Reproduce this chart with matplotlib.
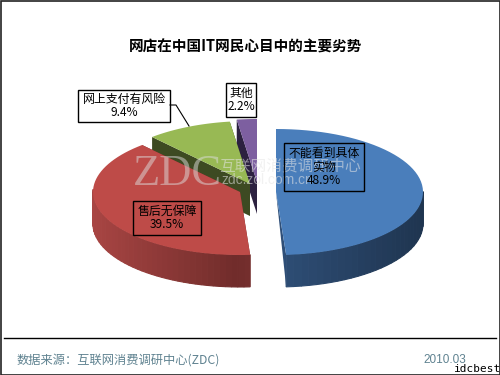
import matplotlib
matplotlib.use("Agg")
import matplotlib.pyplot as plt
from matplotlib.patches import Polygon, Rectangle
import numpy as np

plt.rcParams['font.family'] = ['Noto Sans CJK SC', 'DejaVu Sans']

title = "网店在中国IT网民心目中的主要劣势"
labels = ["不能看到具体\n实物\n48.9%", "售后无保障\n39.5%", "网上支付有风险\n9.4%", "其他\n2.2%"]
values = [48.9, 39.5, 9.4, 2.2]
top_colors = ["#4a7ebb", "#be4b48", "#98b954", "#7d5fa0"]
wall_near = ["#2f4f78", "#702c2b", "#3d4a22", "#2c2140"]
wall_far = ["#1f3550", "#a84543", "#5a6e30", "#3d2f58"]
source = "数据来源：互联网消费调研中心(ZDC)"
date = "2010.03"

# wedge centres in pixels, one per slice
centers = [(276, 192), (240, 192), (250, 184), (257, 182)]
rx, ry, depth = 147, 63, 32


def rim(cx, cy, a0, a1, n=60):
    t = np.radians(np.linspace(a0, a1, n))
    return cx + rx * np.sin(t), cy - ry * np.cos(t)


fig = plt.figure(figsize=(5, 3.75), dpi=100)
ax = fig.add_axes([0, 0, 1, 1])
ax.set_xlim(0, 500)
ax.set_ylim(375, 0)
ax.axis("off")

angles = np.concatenate([[0], np.cumsum(values) * 3.6])

# back slices first so the nearer ones overlap them
for i in [3, 2, 1, 0]:
    cx, cy = centers[i]
    a0, a1 = angles[i], angles[i + 1]
    x, y = rim(cx, cy, a0, a1)

    # cut faces
    for a in (a0, a1):
        ex, ey = rim(cx, cy, a, a, 1)
        if i == 0:
            pts = [(cx, cy), (ex[0], ey[0]), (ex[0], ey[0] + depth)]
        else:
            pts = [(cx, cy), (ex[0], ey[0]), (ex[0], ey[0] + depth), (cx, cy + depth)]
        ax.add_patch(Polygon(pts, closed=True, fc=wall_near[i], ec="none", zorder=2 + (3 - i)))

    # outer wall, shaded in strips
    for j in range(len(x) - 1):
        a = a0 + (a1 - a0) * j / 59
        if np.cos(np.radians(a)) > 0.02:
            continue
        f = abs(np.sin(np.radians(a)))
        c0 = np.array(matplotlib.colors.to_rgb(wall_near[i]))
        c1 = np.array(matplotlib.colors.to_rgb(wall_far[i]))
        col = c0 + (c1 - c0) * f
        ax.add_patch(Polygon([(x[j], y[j]), (x[j + 1], y[j + 1]), (x[j + 1], y[j + 1] + depth), (x[j], y[j] + depth)],
                             closed=True, fc=col, ec=col, lw=0.8, zorder=2 + (3 - i)))

    ax.add_patch(Polygon(np.column_stack([np.r_[cx, x], np.r_[cy, y]]), closed=True,
                         fc=top_colors[i], ec="none", zorder=2 + (3 - i)))

# watermark
ax.text(133, 185, "ZDC", fontsize=32, family="Liberation Serif", color="#dddddd", alpha=0.5, va="baseline", zorder=8)
ax.text(219, 170, "互联网消费调研中心", fontsize=11.3, color="#e6e6e6", alpha=0.55, va="baseline", zorder=8)
ax.text(221, 184, "zdc.zol.com.cn", fontsize=10, family="Liberation Sans", color="#e6e6e6", alpha=0.55, va="baseline", zorder=8)

# data labels
boxes = [(284, 143, 80, 48), (133, 201, 68, 34), (78, 90, 92, 32), (226, 83, 30, 34)]
for lab, (bx, by, bw, bh) in zip(labels, boxes):
    ax.add_patch(Rectangle((bx, by), bw, bh, fc="none" if lab.startswith("不") or lab.startswith("售") else "white",
                           ec="black", lw=1, zorder=9))
    ax.text(bx + bw / 2, by + bh / 2, lab, ha="center", va="center", fontsize=8.6, color="black",
            linespacing=1.05, zorder=10)

# leader line
ax.plot([170, 176, 189], [105, 105, 126], color="black", lw=0.8, zorder=9)

ax.text(246, 47, title, ha="center", va="center", fontsize=10.5, fontweight="bold", color="black")

ax.plot([4, 496], [338, 338], color="black", lw=1)
ax.text(17, 360, source, ha="left", va="center", fontsize=8.8, color="#5f8290")
ax.text(423, 360, date, ha="left", va="center", fontsize=8.5, family="Liberation Sans", color="#5f8290")
ax.text(454, 369, "idcbest", ha="left", va="center", fontsize=8, family="DejaVu Sans Mono", color="black")

ax.add_patch(Rectangle((0.5, 0.5), 499, 374, fc="none", ec="#222222", lw=1.2))

fig.savefig("out.png", dpi=100)
